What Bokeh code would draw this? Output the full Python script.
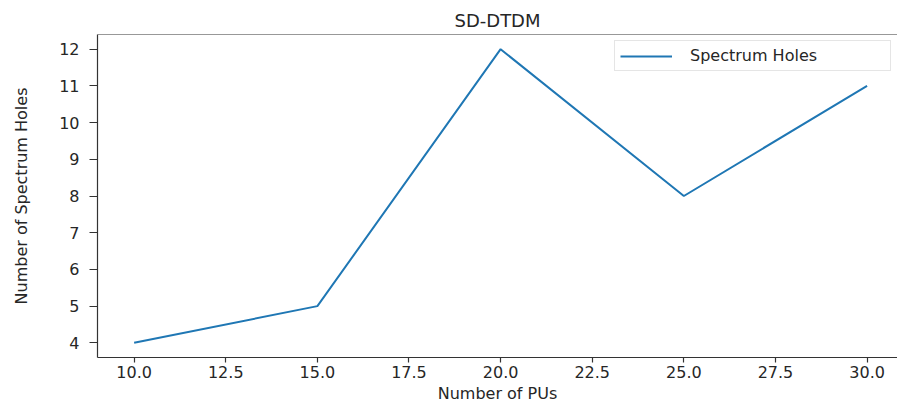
from bokeh.plotting import figure
from bokeh.models import FixedTicker, Span, Legend, LegendItem, Range1d, PrintfTickFormatter
from bokeh.embed import file_html
from bokeh.resources import INLINE

pus = [10, 15, 20, 25, 30]
holes = [4, 5, 12, 8, 11]
x_ticks = [10, 12.5, 15, 17.5, 20, 22.5, 25, 27.5, 30]
y_ticks = [4, 5, 6, 7, 8, 9, 10, 11, 12]

FONT = "DejaVu Sans"
TXT = "#262626"

p = figure(width=897, height=405, output_backend="svg", toolbar_location=None,
           x_range=Range1d(9, 30.83), y_range=Range1d(3.6, 12.4),
           min_border_left=97, min_border_right=0, min_border_top=34, min_border_bottom=47,
           title="SD-DTDM")
p.background_fill_color = "white"
p.border_fill_color = "white"
p.outline_line_alpha = 0
p.grid.visible = False

p.title.align = "center"
p.title.text_font = FONT
p.title.text_font_style = "normal"
p.title.text_font_size = "18px"
p.title.text_color = TXT
p.title.standoff = 7

for ax in (p.xaxis[0], p.yaxis[0]):
    ax.axis_line_color = "#333333"
    ax.axis_line_width = 1.2
    ax.major_tick_line_color = "#333333"
    ax.major_tick_line_width = 1.2
    ax.major_tick_in = 0
    ax.minor_tick_line_color = None
    ax.major_label_text_font = FONT
    ax.major_label_text_font_size = "16px"
    ax.major_label_text_color = TXT
    ax.axis_label_text_font = FONT
    ax.axis_label_text_font_size = "16px"
    ax.axis_label_text_font_style = "normal"
    ax.axis_label_text_color = TXT

p.xaxis.ticker = FixedTicker(ticks=x_ticks)
p.xaxis.formatter = PrintfTickFormatter(format="%.1f")
p.xaxis.major_tick_out = 5
p.xaxis.major_label_standoff = 3
p.xaxis.axis_label = "Number of PUs"
p.xaxis.axis_label_standoff = 3

p.yaxis.ticker = FixedTicker(ticks=y_ticks)
p.yaxis.major_tick_out = 8
p.yaxis.major_label_standoff = 10
p.yaxis.axis_label = "Number of Spectrum Holes"
p.yaxis.axis_label_standoff = 25

p.add_layout(Span(location=12.4, dimension="width", line_color="#333333", line_width=1.2))

r = p.line(pus, holes, line_color="#1f77b4", line_width=2)

legend = Legend(items=[LegendItem(label="Spectrum Holes", renderers=[r])],
                location="top_right", margin=6,
                label_text_font=FONT, label_text_font_size="16px", label_text_color=TXT,
                glyph_width=52, glyph_height=18, label_height=18, label_width=195, label_standoff=18,
                border_line_color="#cccccc", border_line_width=1,
                padding=5, spacing=0)
p.add_layout(legend)

open("out.html", "w").write(file_html(p, INLINE))
